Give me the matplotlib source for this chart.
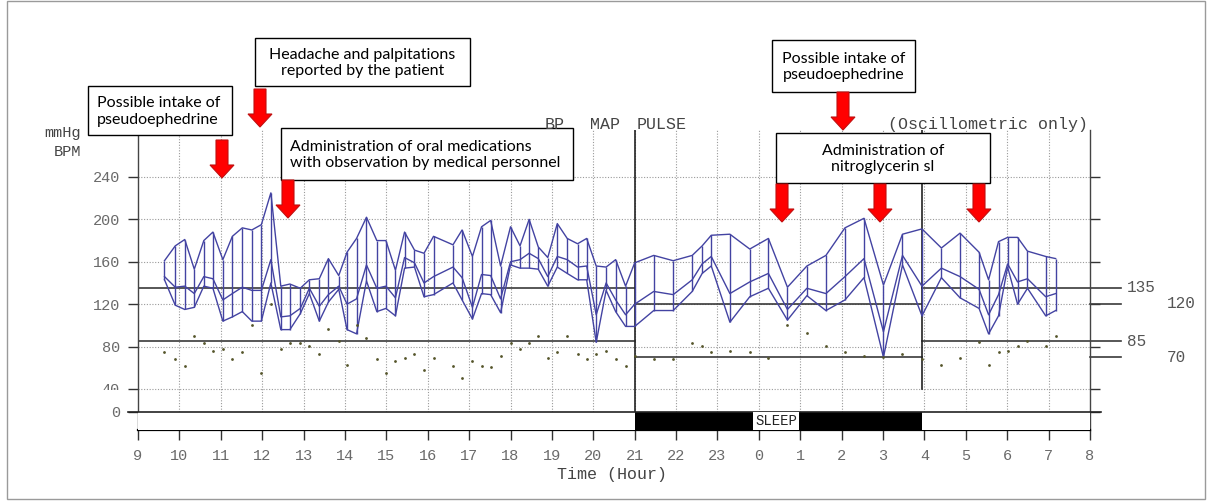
import matplotlib
matplotlib.use('Agg')
import matplotlib.pyplot as plt
from matplotlib.patches import Rectangle, Polygon

# measurement times in hours (values past 24 are the next morning)
hours = [9.64, 9.90, 10.13, 10.36, 10.59, 10.81, 11.05, 11.28, 11.52, 11.75,
         11.98, 12.21, 12.45, 12.67, 12.92, 13.14, 13.38, 13.60, 13.85, 14.05,
         14.28, 14.52, 14.77, 14.99, 15.22, 15.44, 15.68, 15.91, 16.14, 16.61,
         16.83, 17.08, 17.30, 17.52, 17.76, 18.00, 18.23, 18.45, 18.67, 18.90,
         19.13, 19.37, 19.62, 19.84, 20.07, 20.31, 20.54, 20.78, 21.00,
         21.46, 21.93, 22.39, 22.63, 22.85, 23.30, 23.78, 24.23, 24.69, 25.16,
         25.62, 26.08, 26.54, 27.01, 27.47, 27.94,
         28.41, 28.86, 29.32, 29.55, 29.79, 30.01, 30.25, 30.49, 30.93, 31.17]
sys_bp = [161, 175, 181, 153, 180, 188, 162, 184, 192, 190,
          195, 225, 137, 139, 135, 143, 144, 163, 147, 169,
          182, 202, 180, 180, 152, 188, 171, 168, 184, 176,
          190, 165, 193, 199, 156, 193, 175, 200, 174, 164,
          196, 182, 177, 182, 156, 155, 162, 137, 159,
          166, 161, 166, 175, 185, 186, 172, 182, 136, 156,
          166, 192, 201, 138, 186, 191,
          173, 187, 169, 143, 179, 183, 183, 170, 165, 163]
map_bp = [146, 136, 137, 130, 146, 144, 124, 130, 136, 133,
          133, 162, 108, 109, 116, 135, 118, 129, 137, 120,
          125, 157, 135, 137, 126, 164, 159, 140, 146, 155,
          145, 117, 148, 147, 125, 160, 162, 168, 163, 146,
          165, 162, 155, 156, 110, 140, 124, 110, 120,
          132, 129, 143, 158, 165, 130, 141, 149, 115, 135,
          130, 146, 163, 94, 166, 137,
          154, 146, 134, 110, 129, 158, 141, 144, 127, 130]
dia_bp = [143, 119, 115, 117, 137, 135, 104, 108, 113, 104,
          104, 140, 96, 96, 111, 130, 104, 122, 134, 96,
          92, 142, 113, 116, 109, 154, 155, 127, 129, 140,
          124, 106, 130, 129, 112, 157, 154, 154, 153, 137,
          155, 149, 143, 143, 84, 133, 113, 99, 99,
          114, 114, 132, 149, 156, 103, 127, 135, 105, 128,
          114, 124, 145, 70, 157, 109,
          145, 126, 116, 92, 109, 155, 120, 135, 109, 114]
pulse = [75, 68, 62, 90, 83, 76, 78, 68, 75, 100,
         55, 120, 78, 83, 83, 81, 73, 97, 85, 63,
         100, 88, 68, 55, 66, 69, 73, 58, 69, 62,
         50, 66, 62, 61, 71, 83, 78, 83, 90, 69,
         75, 90, 73, 68, 73, 76, 68, 62, 71,
         68, 68, 83, 81, 75, 76, 75, 69, 100, 93,
         81, 75, 71, 70, 73, 68,
         63, 69, 84, 63, 75, 76, 81, 85, 81, 90]

tick_hours = list(range(9, 33))
tick_labels = [str(h % 24) for h in tick_hours]
y_ticks = [40, 80, 120, 160, 200, 240]

sleep_start, sleep_end = 21.0, 27.94
day_limits = [135, 85]
night_limits = [120, 70]
zero_pos = 18.3   # the "0" row sits under a break in the scale

W, H = 1212, 501
mono = 'Liberation Mono'
grey = '#6a6a6a'

fig = plt.figure(figsize=(W / 100, H / 100), dpi=100)
ax = fig.add_axes([138 / W, (H - 430) / H, (1090 - 138) / W, 300 / H])
ax.set_xlim(9, 32)
ax.set_ylim(1.3, 284.3)
y_top = 284.3

ax.spines['top'].set_visible(False)
ax.spines['bottom'].set_linewidth(1.6)
for s in ['left', 'right']:
    ax.spines[s].set_linewidth(1.0)
    ax.spines[s].set_color('#444444')

# dotted grid
for v in y_ticks:
    ax.plot([9, 32], [v, v], color='#9a9a9a', lw=0.8, ls=(0, (1, 1.5)), zorder=1)
for h in tick_hours[1:-1]:
    ax.plot([h, h], [zero_pos, y_top], color='#9a9a9a', lw=0.8, ls=(0, (1, 1.5)), zorder=1)

# limit lines for the day / night / morning periods
lc = '#3a3a3a'
for v in day_limits:
    ax.plot([9, sleep_start], [v, v], color=lc, lw=1.2, zorder=2)
    ax.plot([sleep_end, 32.75], [v, v], color=lc, lw=1.2, zorder=2, clip_on=False)
for v in night_limits:
    ax.plot([sleep_start, sleep_end], [v, v], color=lc, lw=1.2, zorder=2)
    ax.plot([32, 32.75], [v, v], color=lc, lw=1.2, zorder=2, clip_on=False)

ax.plot([sleep_start, sleep_start], [1.3, y_top], color='#222222', lw=1.2, zorder=2)
ax.plot([sleep_end, sleep_end], [40, y_top], color='#222222', lw=1.2, zorder=2)

# sleep bar and zero row
ax.add_patch(Rectangle((9, 1.3), 23, zero_pos - 1.3, fc='white', ec='none', zorder=3))
ax.add_patch(Rectangle((sleep_start, 1.3), sleep_end - sleep_start, zero_pos - 1.3,
                       fc='black', ec='none', zorder=3))
ax.plot([8.76, 32.26], [zero_pos, zero_pos], color='#222222', lw=1.2, zorder=4, clip_on=False)
ax.text(24.42, (zero_pos + 1.3) / 2, 'SLEEP', family=mono, fontsize=10, ha='center',
        va='center', zorder=5, color='#222222',
        bbox=dict(fc='white', ec='none', pad=1.5))

# blood pressure envelope and pulse
bp_col = '#4343a2'
ax.vlines(hours, dia_bp, sys_bp, color=bp_col, lw=1.0, zorder=5)
ax.plot(hours, sys_bp, color=bp_col, lw=1.0, zorder=5)
ax.plot(hours, map_bp, color=bp_col, lw=1.0, zorder=5)
ax.plot(hours, dia_bp, color=bp_col, lw=1.0, zorder=5)
ax.scatter(hours, pulse, s=4, color='#55552a', zorder=6, linewidths=0)

ax.set_xticks(tick_hours, tick_labels)
ax.set_yticks([zero_pos] + y_ticks, ['0'] + [str(v) for v in y_ticks])
ax.tick_params(axis='x', length=7, width=1.0, pad=7, labelsize=11, labelcolor=grey,
               color='#333333')
ax.tick_params(axis='y', length=7, width=1.0, pad=6, labelsize=11, labelcolor=grey,
               color='#333333', right=True)
for lab in ax.get_xticklabels() + ax.get_yticklabels():
    lab.set_family(mono)

# overlay in pixel coordinates for the notes
ov = fig.add_axes([0, 0, 1, 1], zorder=10)
ov.set_xlim(0, W)
ov.set_ylim(H, 0)
ov.axis('off')
ov.patch.set_alpha(0)

ov.add_patch(Rectangle((90, 390), 36, 14, fc='white', ec='none'))
ov.add_patch(Rectangle((7, 1), 1198, 498, fc='none', ec='#9a9a9a', lw=1.0))

tc = '#444444'
ov.text(81, 133, 'mmHg', family=mono, fontsize=11, color=tc, ha='right', va='center')
ov.text(81, 152, 'BPM', family=mono, fontsize=11, color=tc, ha='right', va='center')
for word, x in [('BP', 545), ('MAP', 590), ('PULSE', 637)]:
    ov.text(x, 124, word, family=mono, fontsize=12, color=tc, va='center')
ov.text(1088, 124, '(Oscillometric only)', family=mono, fontsize=12, color=tc,
        ha='right', va='center')
ov.text(612, 474, 'Time (Hour)', family=mono, fontsize=12, color=tc, ha='center', va='center')

lims = [(135, 1127, 288), (85, 1127, 341), (120, 1167, 304), (70, 1167, 357)]
for val, x, y in lims:
    ov.text(x, y, str(val), family=mono, fontsize=11.5, color='#555555', va='center')

notes = [
    ((88, 86, 232, 135), 'Possible intake of\npseudoephedrine', 'left'),
    ((255, 38, 470, 86), 'Headache and palpitations\nreported by the patient', 'center'),
    ((281, 128, 573, 180), 'Administration of oral medications\nwith observation by medical personnel', 'left'),
    ((772, 40, 915, 92), 'Possible intake of\npseudoephedrine', 'center'),
    ((776, 133, 990, 183), 'Administration of\nnitroglycerin sl', 'center'),
]
for (x0, y0, x1, y1), txt, al in notes:
    ov.add_patch(Rectangle((x0, y0), x1 - x0, y1 - y0, fc='white', ec='black', lw=1.0))
    tx = x0 + 9 if al == 'left' else (x0 + x1) / 2
    ov.text(tx, (y0 + y1) / 2 + 1, txt, family='Lato', fontsize=11.5, ha=al,
            va='center', multialignment=al, linespacing=1.2)

arrows = [(222, 140, 178), (260, 89, 127), (288, 180, 218), (843, 92, 130),
          (782, 184, 222), (880, 184, 222), (979, 184, 222)]
for x, top, tip in arrows:
    pts = [(x - 6, top), (x + 6, top), (x + 6, tip - 13), (x + 12, tip - 13),
           (x, tip), (x - 12, tip - 13), (x - 6, tip - 13)]
    ov.add_patch(Polygon(pts, closed=True, fc='#ff0000', ec='#c01010', lw=0.8))

fig.savefig('out.png', dpi=100)
